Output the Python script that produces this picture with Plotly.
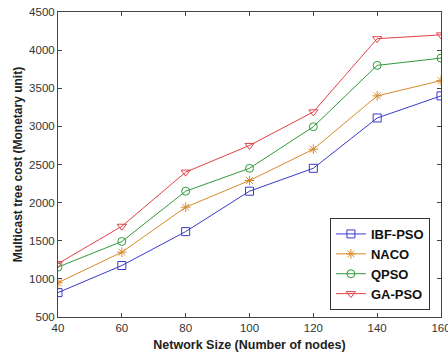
import plotly.graph_objects as go

nodes = [40, 60, 80, 100, 120, 140, 160]
ibf_pso = [820, 1175, 1620, 2150, 2450, 3110, 3400]
naco = [950, 1350, 1940, 2290, 2700, 3400, 3600]
qpso = [1155, 1490, 2150, 2450, 2995, 3800, 3895]
ga_pso = [1200, 1690, 2400, 2750, 3190, 4150, 4200]

series = [
    ("IBF-PSO", ibf_pso, "#3a3acb", "square-open"),
    ("NACO", naco, "#d88a2c", "asterisk-open"),
    ("QPSO", qpso, "#2f9a3a", "circle-open"),
    ("GA-PSO", ga_pso, "#e0424a", "triangle-down-open"),
]

FONT = "Arial, Liberation Sans, sans-serif"

fig = go.Figure()
for name, vals, color, sym in series:
    fig.add_trace(go.Scatter(
        x=nodes, y=vals, name="<b>" + name + "</b>", mode="lines+markers",
        line=dict(color=color, width=1),
        marker=dict(symbol=sym, size=8, color=color, line=dict(color=color, width=1)),
    ))

axis_common = dict(
    showline=True, linecolor="#444", linewidth=1, mirror="allticks",
    ticks="inside", ticklen=4, tickcolor="#444", showgrid=False, zeroline=False,
    tickfont=dict(family=FONT, size=11.5, color="#333"), automargin=False,
)

fig.update_layout(
    width=448, height=355,
    margin=dict(l=58, r=7, t=12, b=38),
    paper_bgcolor="white", plot_bgcolor="white",
    xaxis=dict(range=[40, 160], tickvals=nodes, ticklabeloverflow="allow",
               title=dict(text="<b>Network Size (Number of nodes)</b>", standoff=7,
                          font=dict(family=FONT, size=12.5, color="#222")),
               **axis_common),
    yaxis=dict(range=[500, 4500], dtick=500,
               title=dict(text="<b>Multicast tree cost (Monetary unit)</b>", standoff=3,
                          font=dict(family=FONT, size=12, color="#222")),
               **axis_common),
    legend=dict(x=0.971, y=0.023, xanchor="right", yanchor="bottom",
                bgcolor="white", bordercolor="#333", borderwidth=1,
                font=dict(family=FONT, size=13, color="#111"),
                itemwidth=30, tracegroupgap=0),
    showlegend=True,
)

fig.write_html("out.html")
